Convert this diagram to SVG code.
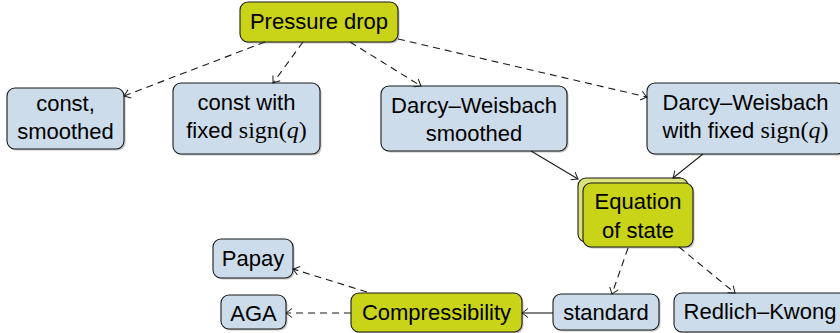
<svg xmlns="http://www.w3.org/2000/svg" width="840" height="333" viewBox="0 0 840 333">
<style>
.g{fill:#c9d317;stroke:#1a1a1a;stroke-width:1.1}
.b{fill:#cddcea;stroke:#1a1a1a;stroke-width:1.1}
.g2{fill:#dce37a;stroke:#1a1a1a;stroke-width:1.1}
.sh{fill:#777;opacity:0.45}
text{font-family:"Liberation Sans","DejaVu Sans",sans-serif;font-size:22px;fill:#000;text-anchor:middle}
.m{font-family:"Liberation Serif","DejaVu Serif",serif;font-size:24px}
.mi{font-family:"Liberation Serif","DejaVu Serif",serif;font-size:24px;font-style:italic}
.c{fill:none;stroke:#1a1a1a;stroke-width:1.1}
.d{stroke-dasharray:7,5}
</style>
<defs>
<marker id="ar" markerWidth="12" markerHeight="12" refX="0" refY="0" viewBox="-8 -6 10 12" orient="auto" markerUnits="userSpaceOnUse">
<path d="M-6,-4.5 Q-1.5,-1 0,0 Q-1.5,1 -6,4.5" fill="none" stroke="#1a1a1a" stroke-width="1"/>
</marker>
</defs>
<g id="pressure-drop">
<rect class="sh" x="241.5" y="3.5" width="158" height="40" rx="8"/>
<rect class="g" x="240" y="2" width="158" height="40" rx="8"/>
<text x="319" y="29">Pressure drop</text>
</g>
<g id="const-smoothed">
<rect class="sh" x="8.5" y="89.5" width="117" height="61" rx="8"/>
<rect class="b" x="7" y="88" width="117" height="61" rx="8"/>
<text x="65.5" y="111">const,</text>
<text x="65.5" y="139">smoothed</text>
</g>
<g id="const-fixed">
<rect class="sh" x="174.5" y="84.5" width="147" height="71" rx="8"/>
<rect class="b" x="173" y="83" width="147" height="71" rx="8"/>
<text x="246.5" y="110">const with</text>
<text x="246.5" y="138">fixed <tspan class="m">sign(</tspan><tspan class="mi">q</tspan><tspan class="m">)</tspan></text>
</g>
<g id="dw-smoothed">
<rect class="sh" x="382.5" y="87.5" width="186" height="65" rx="8"/>
<rect class="b" x="381" y="86" width="186" height="65" rx="8"/>
<text x="474" y="113">Darcy–Weisbach</text>
<text x="474" y="141">smoothed</text>
</g>
<g id="dw-fixed">
<rect class="sh" x="648.5" y="84.5" width="198" height="71" rx="8"/>
<rect class="b" x="647" y="83" width="198" height="71" rx="8"/>
<text x="745.5" y="110">Darcy–Weisbach</text>
<text x="745.5" y="138">with fixed <tspan class="m">sign(</tspan><tspan class="mi">q</tspan><tspan class="m">)</tspan></text>
</g>
<g id="equation-of-state">
<rect class="g2" x="578" y="178" width="110" height="64" rx="8"/>
<rect class="sh" x="584.5" y="184.5" width="110" height="64" rx="8"/>
<rect class="g" x="583" y="183" width="110" height="64" rx="8"/>
<text x="638" y="209">Equation</text>
<text x="638" y="238">of state</text>
</g>
<g id="papay">
<rect class="sh" x="214.5" y="240.5" width="80" height="39" rx="8"/>
<rect class="b" x="213" y="239" width="80" height="39" rx="8"/>
<text x="253" y="266">Papay</text>
</g>
<g id="aga">
<rect class="sh" x="222.5" y="296.5" width="65" height="34" rx="8"/>
<rect class="b" x="221" y="295" width="65" height="34" rx="8"/>
<text x="253.5" y="321">AGA</text>
</g>
<g id="compressibility">
<rect class="sh" x="352.5" y="294.5" width="171" height="39" rx="8"/>
<rect class="g" x="351" y="293" width="171" height="39" rx="8"/>
<text x="436.5" y="320">Compressibility</text>
</g>
<g id="standard">
<rect class="sh" x="554.5" y="295.5" width="106" height="36" rx="8"/>
<rect class="b" x="553" y="294" width="106" height="36" rx="8"/>
<text x="606" y="320">standard</text>
</g>
<g id="redlich-kwong">
<rect class="sh" x="675.5" y="294.5" width="180" height="39" rx="8"/>
<rect class="b" x="674" y="293" width="180" height="39" rx="8"/>
<text x="760" y="319">Redlich–Kwong</text>
</g>
<g id="connectors">
<line class="c d" x1="265" y1="42" x2="124" y2="96" marker-end="url(#ar)"/>
<line class="c d" x1="303" y1="42" x2="273" y2="83" marker-end="url(#ar)"/>
<line class="c d" x1="350" y1="42" x2="421" y2="86" marker-end="url(#ar)"/>
<line class="c d" x1="398" y1="39" x2="647" y2="97" marker-end="url(#ar)"/>
<line class="c" x1="531" y1="151" x2="578" y2="179" marker-end="url(#ar)"/>
<line class="c" x1="703" y1="154" x2="673" y2="178" marker-end="url(#ar)"/>
<line class="c d" x1="628" y1="248" x2="612" y2="294" marker-end="url(#ar)"/>
<line class="c d" x1="679" y1="247" x2="735" y2="293" marker-end="url(#ar)"/>
<line class="c" x1="553" y1="313" x2="522" y2="313" marker-end="url(#ar)"/>
<line class="c d" x1="351" y1="313" x2="286" y2="313" marker-end="url(#ar)"/>
<line class="c d" x1="367" y1="292" x2="293" y2="269" marker-end="url(#ar)"/>
</g>
</svg>
